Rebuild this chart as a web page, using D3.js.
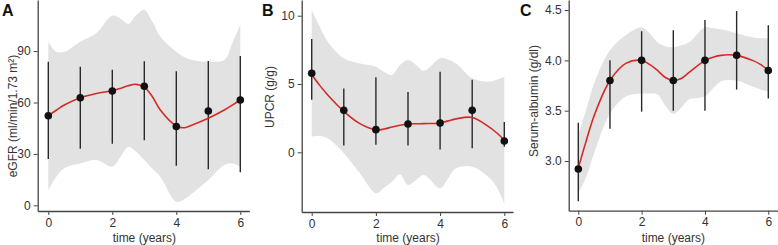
<!DOCTYPE html>
<meta charset="utf-8">
<script src="https://d3js.org/d3.v7.min.js"></script>
<style>
  body { margin: 0; background: #fff; }
  svg { font-family: 'Liberation Sans', Arial, sans-serif; }
  .tick text { font-size: 12px; fill: #333; }
  .tick line, .domain { stroke: #444; }
</style>
<body>
<svg id="chart" width="778" height="245"></svg>
<script>

// observed points (mean and error bar ends), years 0..6
var years = [0, 1, 2, 3, 4, 5, 6]

var egfrMean = [52.3, 62.8, 66.7, 69.5, 46, 55, 61.5]
var egfrHi   = [83.8, 80.9, 79.1, 84, 78.2, 84.2, 87.1]
var egfrLo   = [27, 33, 36, 38, 23.1, 21, 19.3]

var upcrMean = [5.78, 3.07, 1.66, 2.07, 2.15, 3.07, 0.83]
var upcrHi   = [8.29, 4.68, 5.49, 4.41, 5.9, 5.32, 2.22]
var upcrLo   = [3.85, 0.49, 0.56, 0.49, 0.2, 0.29, 0.41]

var albMean = [2.92, 3.8, 4.0, 3.8, 4.0, 4.05, 3.9]
var albHi   = [3.38, 4.0, 4.29, 4.3, 4.4, 4.49, 4.35]
var albLo   = [2.6, 3.32, 3.49, 3.5, 3.5, 3.71, 3.62]

// fitted curve + band
var fitTime = [0, 0.25, 0.5, 1, 1.5, 2, 2.25, 2.5, 2.75, 3, 3.25, 3.5, 4, 4.25, 4.5, 5, 5.5, 5.75, 6]

var egfrFit   = [52.3, 55.5, 58.5, 62.8, 65.3, 66.9, 68.2, 69.8, 70.6, 69.0, 63.5, 55.6, 46.3, 45.3, 46.9, 50.8, 55.6, 58.5, 61.5]
var egfrBandU = [95.5, 89.6, 89.6, 95.5, 100.4, 110.7, 109.1, 105.8, 111, 114, 107.2, 98.5, 89.6, 86.5, 84.8, 83.9, 84.8, 94.6, 105.2]
var egfrBandL = [8.9, 16.7, 21.6, 24.5, 26.4, 22.5, 28, 34.2, 31.3, 26.4, 21.5, 16.7, 2.1, 3.5, 7, 14.8, 23.5, 24.5, 22.5]

var upcrFit   = [5.7, 4.9, 4.2, 3.0, 2.1, 1.65, 1.7, 1.85, 1.98, 2.07, 2.09, 2.1, 2.15, 2.3, 2.45, 2.55, 1.9, 1.45, 0.9]
var upcrBandU = [10.42, 9.2, 8.1, 6.88, 6.5, 6.27, 5.9, 5.66, 6.39, 6.76, 6.4, 5.97, 6.88, 6.8, 6.5, 5.42, 5.17, 5.3, 5.53]
var upcrBandL = [1.14, 1.2, 1.02, -0.07, -1.54, -3.0, -2.6, -2.15, -1.6, -2.39, -2.03, -1.66, -2.64, -1.9, -1.17, -1.05, -1.79, -2.5, -3.73]

var albFit   = [2.93, 3.2, 3.45, 3.8, 3.97, 4.0, 3.96, 3.9, 3.83, 3.8, 3.82, 3.88, 4.0, 4.03, 4.05, 4.05, 4.0, 3.96, 3.9]
var albBandU = [3.27, 3.51, 3.77, 4.10, 4.25, 4.33, 4.27, 4.18, 4.14, 4.13, 4.15, 4.18, 4.33, 4.32, 4.31, 4.27, 4.23, 4.22, 4.22]
var albBandL = [2.68, 2.84, 3.08, 3.47, 3.64, 3.67, 3.67, 3.66, 3.55, 3.47, 3.53, 3.61, 3.64, 3.72, 3.79, 3.80, 3.74, 3.71, 3.69]

var xTicks = [0, 2, 4, 6]

var panels = [
  {letter: "A", label: "eGFR (ml/min/1.73 m²)", mean: egfrMean, hi: egfrHi, lo: egfrLo,
   fit: egfrFit, bu: egfrBandU, bl: egfrBandL, yTicks: [0, 30, 60, 90],
   left: 37.7, right: 249.3, x0: 48.3, x6: 240.3, yTop: 119.8, yBot: -3.3, bottom: 211,
   fmt: d3.format("d"), labX: 13, labY: 116, letterX: 2},
  {letter: "B", label: "UPCR (g/g)", mean: upcrMean, hi: upcrHi, lo: upcrLo,
   fit: upcrFit, bu: upcrBandU, bl: upcrBandL, yTicks: [0, 5, 10],
   left: 301.7, right: 513, x0: 311.7, x6: 504.3, yTop: 11.15, yBot: -4.37, bottom: 212,
   fmt: d3.format("d"), labX: 270, labY: 97, letterX: 262},
  {letter: "C", label: "Serum-albumin (g/dl)", mean: albMean, hi: albHi, lo: albLo,
   fit: albFit, bu: albBandU, bl: albBandL, yTicks: [3.0, 3.5, 4.0, 4.5],
   left: 568.7, right: 778, x0: 578.3, x6: 768.3, yTop: 4.6, yBot: 2.506, bottom: 210.7,
   fmt: d3.format(".1f"), labX: 534, labY: 101, letterX: 520}
]

var svg = d3.select("#chart")

panels.forEach(function(p) {
  var g = svg.append("g")

  // map years to pixels so that 0 and 6 fall where the reference puts them
  var perYear = (p.x6 - p.x0) / 6
  var x = d3.scaleLinear()
    .domain([(p.left - p.x0) / perYear, 6 + (p.right - p.x6) / perYear])
    .range([p.left, p.right])
  var y = d3.scaleLinear()
    .domain([p.yBot, p.yTop])
    .range([p.bottom, 0])

  // band
  var band = fitTime.map(function(t, i) { return {t: t, u: p.bu[i], l: p.bl[i]} })
  g.append("path")
    .datum(band)
    .attr("fill", "#e2e2e2")
    .attr("d", d3.area()
      .curve(d3.curveCatmullRom.alpha(0.5))
      .x(function(d) { return x(d.t) })
      .y0(function(d) { return y(d.l) })
      .y1(function(d) { return y(d.u) }))

  // error bars
  g.selectAll(".err")
    .data(years)
    .enter().append("line")
      .attr("x1", function(d) { return x(d) })
      .attr("x2", function(d) { return x(d) })
      .attr("y1", function(d, i) { return y(p.hi[i]) })
      .attr("y2", function(d, i) { return y(p.lo[i]) })
      .attr("stroke", "#2a2a2a")
      .attr("stroke-width", 1.4)

  // fitted line
  var fit = fitTime.map(function(t, i) { return {t: t, v: p.fit[i]} })
  g.append("path")
    .datum(fit)
    .attr("fill", "none")
    .attr("stroke", "#d42a25")
    .attr("stroke-width", 1.6)
    .attr("d", d3.line()
      .curve(d3.curveCatmullRom.alpha(0.5))
      .x(function(d) { return x(d.t) })
      .y(function(d) { return y(d.v) }))

  // points
  g.selectAll(".pt")
    .data(years)
    .enter().append("circle")
      .attr("cx", function(d) { return x(d) })
      .attr("cy", function(d, i) { return y(p.mean[i]) })
      .attr("r", 3.8)
      .attr("fill", "#111")

  // axes
  g.append("g")
    .attr("transform", "translate(0," + p.bottom + ")")
    .call(d3.axisBottom(x).tickValues(xTicks).tickFormat(d3.format("d")).tickSize(4).tickSizeOuter(0).tickPadding(3))
  g.append("g")
    .attr("transform", "translate(" + p.left + ",0)")
    .call(d3.axisLeft(y).tickValues(p.yTicks).tickFormat(p.fmt).tickSize(4).tickSizeOuter(0).tickPadding(3))

  g.selectAll(".domain").attr("stroke-width", 1.3)

  g.append("text")
    .attr("x", (p.x0 + p.x6) / 2)
    .attr("y", 242)
    .attr("text-anchor", "middle")
    .style("font-size", "12px")
    .attr("fill", "#333")
    .text("time (years)")

  g.append("text")
    .attr("transform", "translate(" + p.labX + "," + p.labY + ") rotate(-90)")
    .attr("text-anchor", "middle")
    .attr("dy", "0.35em")
    .style("font-size", "12px")
    .attr("fill", "#333")
    .text(p.label)

  g.append("text")
    .attr("x", p.letterX)
    .attr("y", 16)
    .style("font-size", "16px")
    .style("font-weight", "bold")
    .attr("fill", "#111")
    .text(p.letter)
})

</script>
</body>
